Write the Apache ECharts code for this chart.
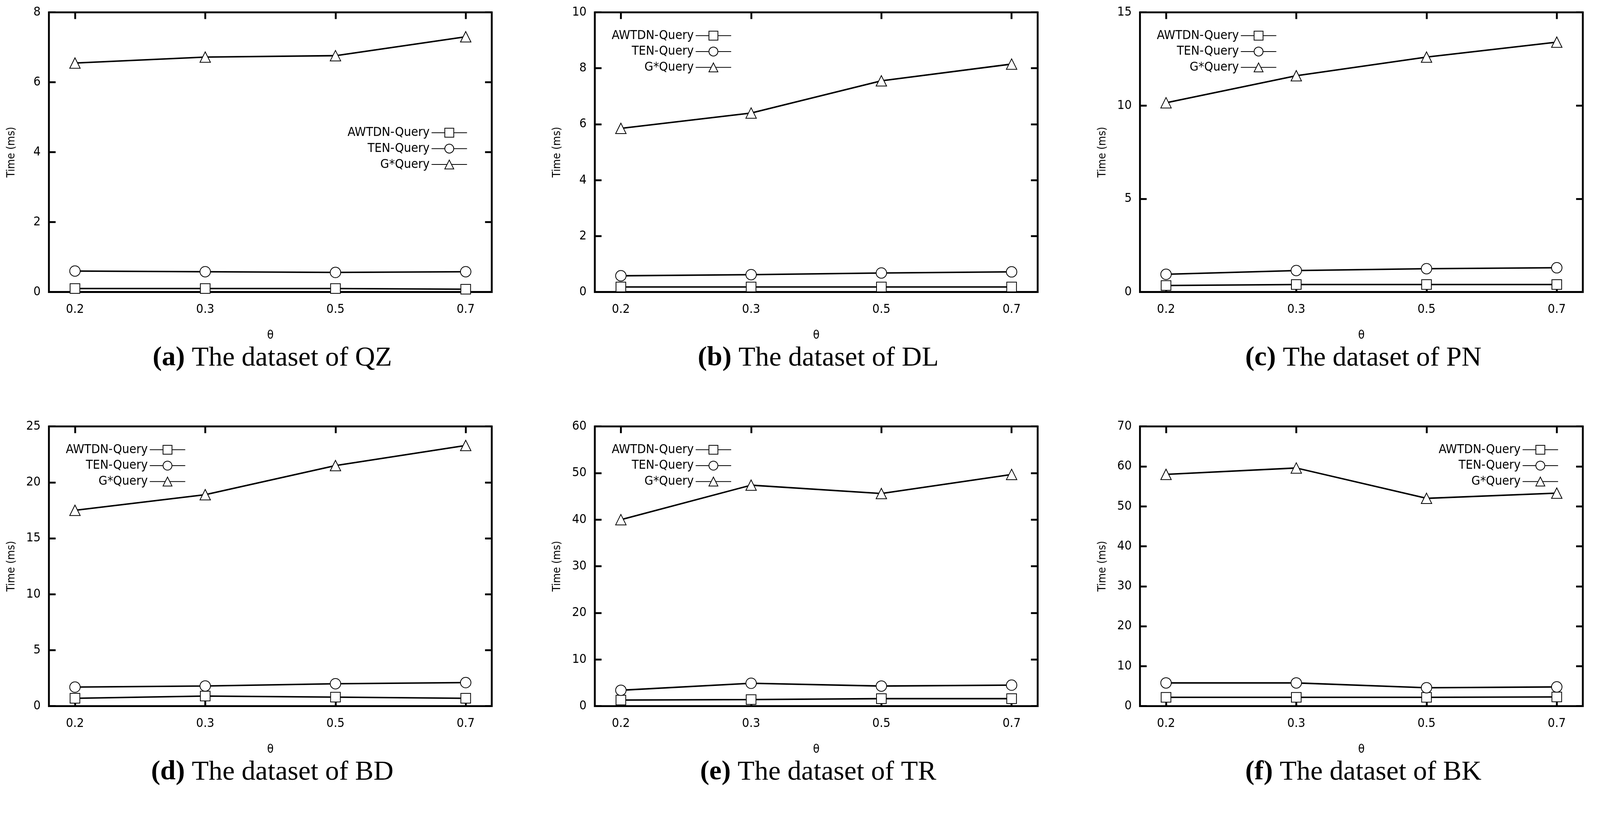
<!DOCTYPE html>
<html><head><meta charset="utf-8">
<script src="https://cdn.jsdelivr.net/npm/echarts@6/dist/echarts.min.js"></script>
<style>html,body{margin:0;background:#fff;overflow:hidden}#c{width:100vw;height:100vh}</style>
</head><body><div id="c"></div>
<script>
var thetaLabels = ['0.2', '0.3', '0.5', '0.7'];
var seriesNames = ['AWTDN-Query', 'TEN-Query', 'G*Query'];
var letters = ['a', 'b', 'c', 'd', 'e', 'f'];
var datasets = ['QZ', 'DL', 'PN', 'BD', 'TR', 'BK'];
var yMax = [8, 10, 15, 25, 60, 70];
var yStep = [2, 2, 5, 5, 10, 10];

// per panel: AWTDN, TEN, G*
var awtdn = [
  [0.10, 0.10, 0.10, 0.08],
  [0.18, 0.18, 0.18, 0.18],
  [0.35, 0.40, 0.40, 0.40],
  [0.70, 0.90, 0.80, 0.70],
  [1.3, 1.4, 1.6, 1.6],
  [2.2, 2.2, 2.2, 2.3]
];
var ten = [
  [0.60, 0.58, 0.56, 0.58],
  [0.58, 0.62, 0.68, 0.72],
  [0.95, 1.15, 1.25, 1.30],
  [1.70, 1.80, 2.00, 2.10],
  [3.4, 4.9, 4.3, 4.5],
  [5.8, 5.8, 4.6, 4.8]
];
var gstar = [
  [6.55, 6.72, 6.76, 7.30],
  [5.85, 6.40, 7.55, 8.15],
  [10.15, 11.6, 12.6, 13.4],
  [17.5, 18.9, 21.5, 23.3],
  [40.0, 47.4, 45.6, 49.7],
  [58.0, 59.6, 52.0, 53.3]
];

var chart = echarts.init(document.getElementById('c'));
var k = chart.getWidth() / 4285;
function s(v) { return v * k; }
var lefts = [131, 1593, 3053], tops = [33, 1142];
var W = 1186, H = 749;
var font = 'DejaVu Sans Condensed, DejaVu Sans';
var grid = [], xAxis = [], yAxis = [], series = [], legend = [], title = [];
var symbols = ['emptyRect', 'emptyCircle', 'emptyTriangle'];
var tickPos = [0, 1, 2, 3];

for (var p = 0; p < 6; p++) {
  var L = lefts[p % 3], T = tops[Math.floor(p / 3)];
  grid.push({left: s(L), top: s(T), width: s(W), height: s(H), show: true, borderColor: '#000', borderWidth: s(5)});
  var tick = {inside: true, length: s(18), lineStyle: {width: s(5), color: '#000'}};
  var xb = {gridIndex: p, type: 'value', min: -0.2, max: 3.2,
    axisLine: {show: false, onZero: false}, splitLine: {show: false},
    axisTick: Object.assign({customValues: tickPos}, tick)};
  xAxis.push(Object.assign({}, xb, {position: 'bottom', name: 'θ', nameLocation: 'middle', nameGap: s(100),
    nameTextStyle: {fontFamily: font, fontSize: s(32), color: '#000'},
    axisLabel: {customValues: tickPos, fontFamily: font, fontSize: s(34), color: '#000', margin: s(30),
      formatter: function (v) { return thetaLabels[Math.round(v)]; }}}));
  xAxis.push(Object.assign({}, xb, {position: 'top', axisLabel: {show: false}}));
  var yb = {gridIndex: p, type: 'value', min: 0, max: yMax[p], interval: yStep[p],
    axisLine: {show: false, onZero: false}, splitLine: {show: false}, axisTick: tick};
  yAxis.push(Object.assign({}, yb, {position: 'left', name: 'Time (ms)', nameLocation: 'middle', nameGap: s(85),
    nameTextStyle: {fontFamily: font, fontSize: s(30), color: '#000'},
    axisLabel: {fontFamily: font, fontSize: s(34), color: '#000', margin: s(22)}}));
  yAxis.push(Object.assign({}, yb, {position: 'right', axisLabel: {show: false}}));

  var vals = [awtdn[p], ten[p], gstar[p]];
  for (var j = 0; j < 3; j++) {
    series.push({
      type: 'line', name: seriesNames[j] + '#' + p, xAxisIndex: 2 * p, yAxisIndex: 2 * p,
      data: vals[j].map(function (v, i) { return [i, v]; }),
      symbol: symbols[j], symbolSize: s(j === 0 ? 26 : 28),
      lineStyle: {color: '#000', width: s(4)}, itemStyle: {color: '#000', borderWidth: s(3.5)},
      animation: false
    });
  }
  var legPos;
  if (p === 0) legPos = {right: s(4285 - (L + W) + 60), top: s(T + 300)};
  else if (p === 5) legPos = {right: s(4285 - (L + W) + 60), top: s(T + 40)};
  else legPos = {left: s(L + 40), top: s(T + 40)};
  legend.push(Object.assign({
    orient: 'vertical', align: 'right', itemGap: s(8), itemWidth: s(95), itemHeight: s(30),
    data: seriesNames.map(function (n) { return n + '#' + p; }),
    formatter: function (n) { return n.split('#')[0]; },
    textStyle: {fontFamily: font, fontSize: s(34), color: '#000'}
  }, legPos));
  title.push({
    text: '{b|(' + letters[p] + ')} The dataset of ' + datasets[p],
    left: s(L + W / 2), top: s(T + H + 135), textAlign: 'center',
    textStyle: {fontFamily: 'Liberation Serif', fontSize: s(74), fontWeight: 'normal', color: '#000',
      rich: {b: {fontFamily: 'Liberation Serif', fontSize: s(74), fontWeight: 'bold', color: '#000'}}}
  });
}

chart.setOption({
  backgroundColor: '#fff', animation: false,
  title: title, legend: legend, grid: grid, xAxis: xAxis, yAxis: yAxis, series: series
});
</script></body></html>
